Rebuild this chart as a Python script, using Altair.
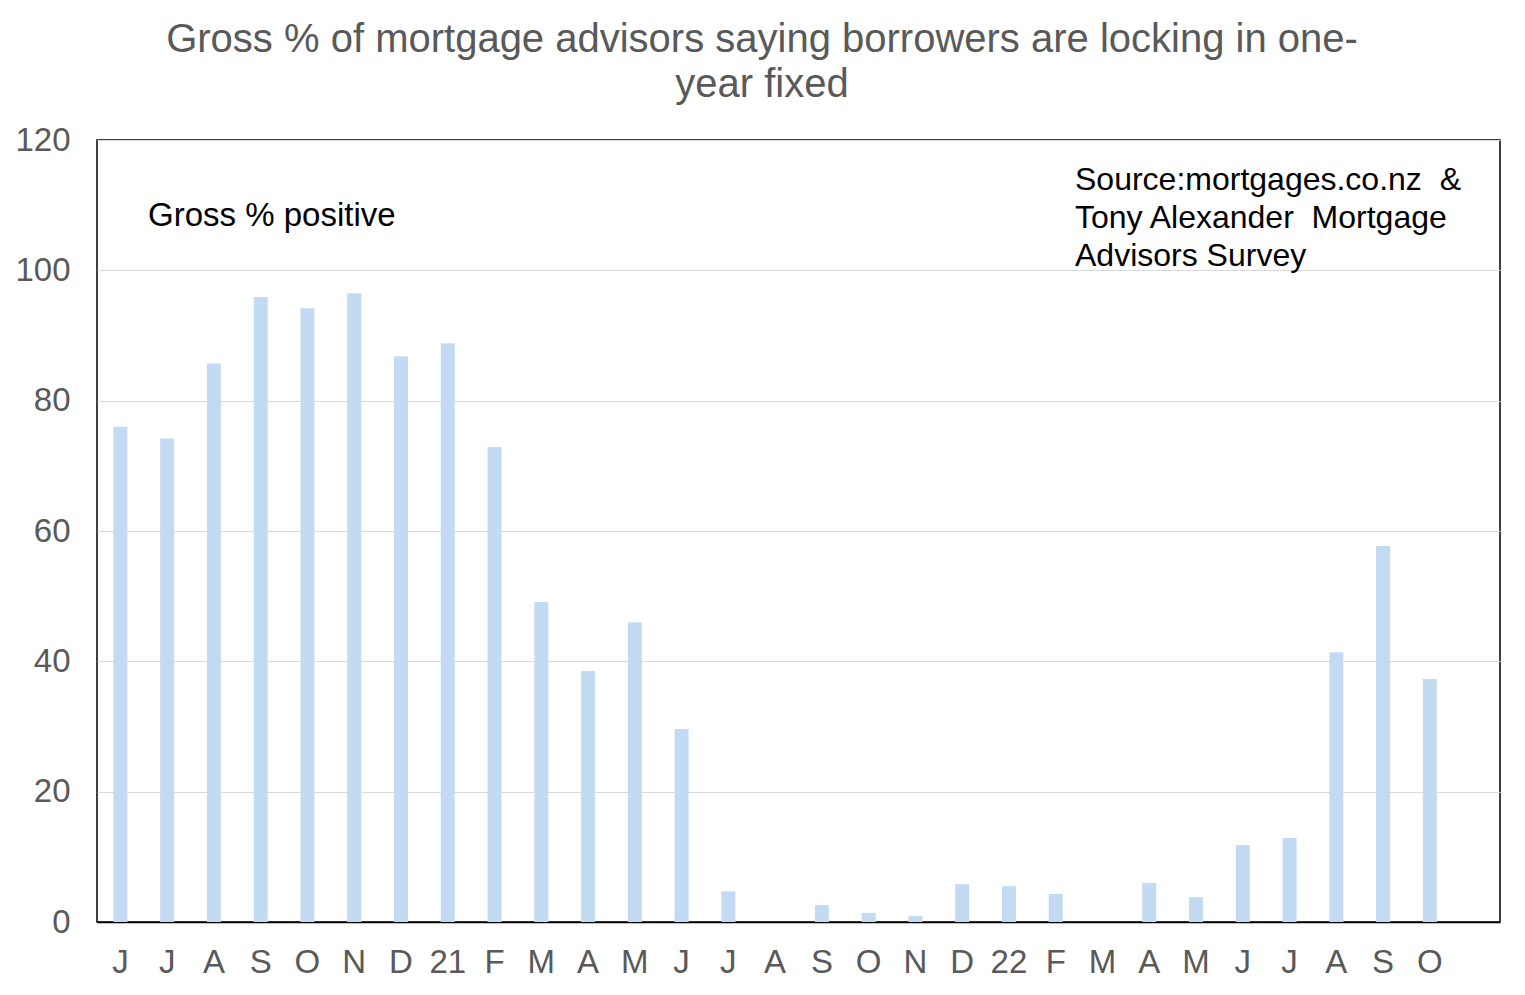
import altair as alt
import pandas as pd

month_labels = ["J", "J", "A", "S", "O", "N", "D", "21", "F", "M", "A", "M", "J",
                "J", "A", "S", "O", "N", "D", "22", "F", "M", "A", "M", "J", "J",
                "A", "S", "O", ""]
values = [76, 74.2, 85.7, 95.9, 94.2, 96.5, 86.8, 88.8, 72.9, 49.1, 38.5, 46.0,
          29.6, 4.7, 0, 2.6, 1.4, 0.9, 5.8, 5.5, 4.3, 0, 6.0, 3.8, 11.8, 12.9,
          41.4, 57.7, 37.3]
y_ticks = [0, 20, 40, 60, 80, 100, 120]

df = pd.DataFrame({"idx": list(range(len(values))), "value": values})

label_js = "[" + ",".join('"%s"' % l for l in month_labels) + "]"

FONT = "Liberation Sans"
GREY = "#595959"

bars = alt.Chart(df).mark_bar(color="#C3DBF2").encode(
    x=alt.X("idx:O", title=None,
            scale=alt.Scale(domain=list(range(len(month_labels))),
                            paddingInner=0.70, paddingOuter=0.35),
            axis=alt.Axis(labelExpr=label_js + "[datum.value]", labelAngle=0,
                          labelFontSize=33, labelColor=GREY, labelFont=FONT,
                          labelPadding=24, ticks=False, domain=True,
                          domainColor="#000000", domainWidth=1.5, grid=False)),
    y=alt.Y("value:Q", title=None,
            scale=alt.Scale(domain=[0, 120], nice=False),
            axis=alt.Axis(values=y_ticks, labelFontSize=33, labelColor=GREY,
                          labelFont=FONT, labelPadding=27, ticks=False,
                          domain=False, grid=True, gridColor="#D9D9D9",
                          gridWidth=1.2)),
)

ann1 = alt.Chart(pd.DataFrame({"t": ["Gross % positive"]})).mark_text(
    align="left", baseline="middle", fontSize=33, font=FONT, color="#000000"
).encode(x=alt.value(51), y=alt.value(76), text="t:N")

src = pd.DataFrame({"t": ["Source:mortgages.co.nz\u00a0 &", "Tony Alexander\u00a0 Mortgage",
                          "Advisors Survey"], "row": [0, 1, 2]})
ann2 = alt.Chart(src).mark_text(
    align="left", baseline="middle", fontSize=32, font=FONT, color="#000000"
).encode(x=alt.value(978),
         y=alt.Y("row:Q", axis=None, scale=alt.Scale(domain=[0, 2], range=[40, 116])),
         text="t:N")

title_df = pd.DataFrame({"t": ["Gross % of mortgage advisors saying borrowers are locking in one-",
                               "year fixed"], "row": [0, 1]})
title = alt.Chart(title_df).mark_text(
    align="center", baseline="middle", fontSize=40, font=FONT, color=GREY
).encode(x=alt.value(665),
         y=alt.Y("row:Q", axis=None, scale=alt.Scale(domain=[0, 1], range=[-100, -55])),
         text="t:N")

chart = alt.layer(bars, ann1, ann2, title).resolve_scale(y="independent").properties(
    width=1403, height=782,
    autosize=alt.AutoSizeParams(type="none"),
    padding={"left": 89, "top": 132, "right": 17, "bottom": 65},
    background="white",
).configure_view(stroke="#000000", strokeWidth=1.5)

chart.save("out.html", embed_options={"renderer": "svg", "actions": False})
